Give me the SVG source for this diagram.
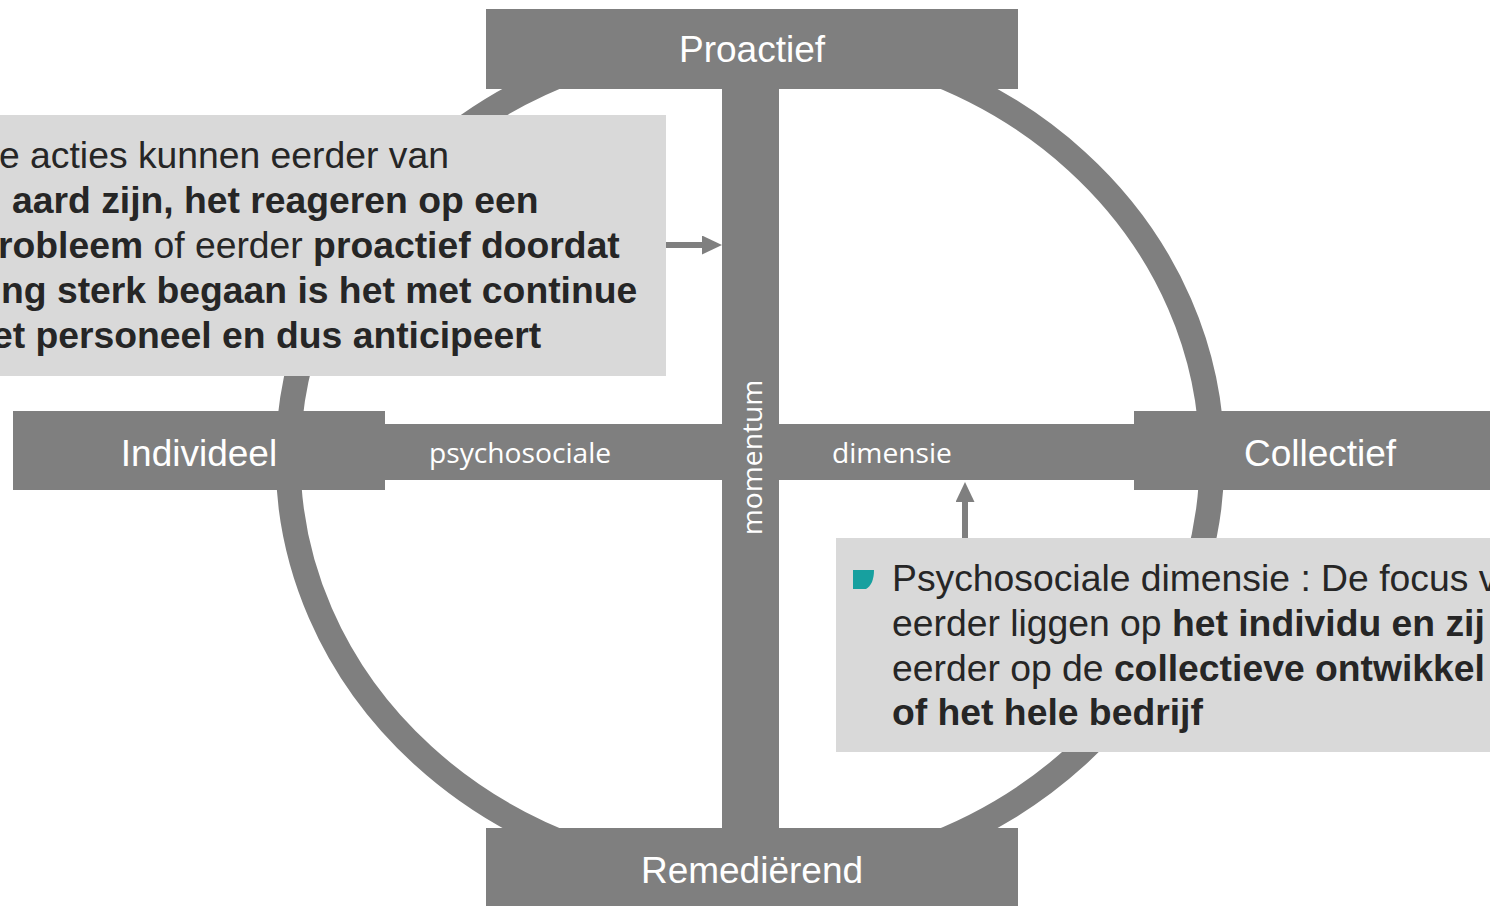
<svg xmlns="http://www.w3.org/2000/svg" width="1490" height="906" viewBox="0 0 1490 906">
<style>
.g{fill:#7f7f7f}
.ring{fill:none;stroke:#7f7f7f;stroke-width:25}
.lbl{font-family:"Liberation Sans",Arial,Helvetica,sans-serif;font-size:37px;fill:#ffffff;text-anchor:middle}
.ax{font-family:"Open Sans","Noto Sans",sans-serif;font-size:28.2px;fill:#ffffff}
.box{fill:#d9d9d9}
.nt{font-family:"Liberation Sans",Arial,Helvetica,sans-serif;font-size:37.3px;fill:#262626}
.b{font-weight:bold}
.con{stroke:#7f7f7f;stroke-width:6;fill:none}
</style>
<defs>
<marker id="ah" markerUnits="userSpaceOnUse" markerWidth="20" markerHeight="19" refX="1" refY="9.5" orient="auto" viewBox="0 0 20 19">
<path d="M0,0 L20,9.5 L0,19 Z" fill="#7f7f7f"/>
</marker>
</defs>
<g id="ring">
<ellipse class="ring" cx="750" cy="458.5" rx="462" ry="420.5"/>
</g>
<g id="axes">
<rect class="g" x="385" y="424" width="749" height="56"/>
<rect class="g" x="722" y="89" width="57" height="739"/>
<text class="ax" x="429" y="463">psychosociale</text>
<text class="ax" x="832" y="463">dimensie</text>
<text class="ax" transform="translate(761.5,457.5) rotate(-90)" text-anchor="middle">momentum</text>
</g>
<g id="proactief">
<rect class="g" x="486" y="9" width="532" height="80"/>
<text class="lbl" x="752" y="62">Proactief</text>
</g>
<g id="remedierend">
<rect class="g" x="486" y="828" width="532" height="80"/>
<text class="lbl" x="752" y="882.5">Remediërend</text>
</g>
<g id="individueel">
<rect class="g" x="13" y="411" width="372" height="79"/>
<text class="lbl" x="199" y="465.5">Individeel</text>
</g>
<g id="collectief">
<rect class="g" x="1134" y="411" width="372" height="79"/>
<text class="lbl" x="1320" y="465.5">Collectief</text>
</g>
<g id="note-momentum">
<rect class="box" x="-10" y="115" width="676" height="261"/>
<text class="nt" x="-1" y="167.5">e acties kunnen eerder van</text>
<text class="nt b" x="12" y="212.5">aard zijn, het reageren op een</text>
<text class="nt" x="-2" y="257.5"><tspan class="b">robleem</tspan> of eerder <tspan class="b">proactief doordat</tspan></text>
<text class="nt b" x="1" y="302.5">ng sterk begaan is het met continue</text>
<text class="nt b" x="-8" y="347.5">et personeel en dus anticipeert</text>
</g>
<g id="note-dimensie">
<rect class="box" x="836" y="538" width="680" height="214"/>
<path d="M853,570 H874 C874,580 871,586 866,589 H853 Z" fill="#17a09f"/>
<text class="nt" x="892" y="590.5">Psychosociale dimensie : De focus v</text>
<text class="nt" x="892" y="635.5">eerder liggen op <tspan class="b">het individu en zij</tspan></text>
<text class="nt" x="892" y="680.5">eerder op de <tspan class="b">collectieve ontwikkel</tspan></text>
<text class="nt b" x="892" y="724.5">of het hele bedrijf</text>
</g>
<g id="connectors">
<line class="con" x1="666" y1="245" x2="703" y2="245" marker-end="url(#ah)"/>
<line class="con" x1="965" y1="538" x2="965" y2="501" marker-end="url(#ah)"/>
</g>
</svg>
